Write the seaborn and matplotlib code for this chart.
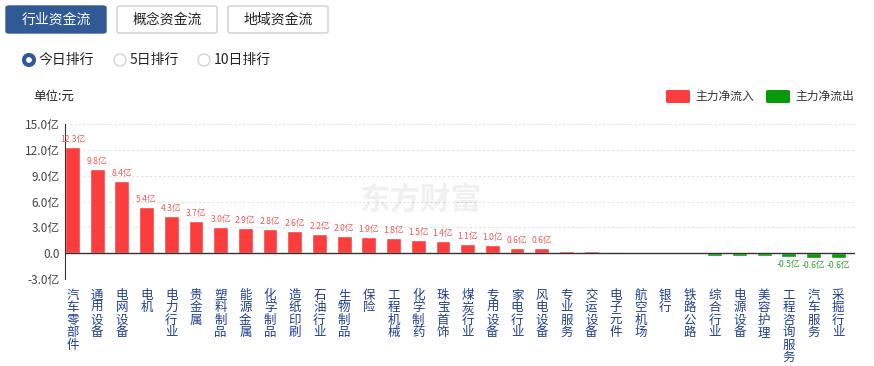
import matplotlib
matplotlib.use("Agg")
import matplotlib.pyplot as plt
import seaborn as sns
import pandas as pd
from matplotlib.patches import FancyBboxPatch, Ellipse

# 行业资金流 今日排行
industries = ["汽车零部件", "通用设备", "电网设备", "电机", "电力行业", "贵金属", "塑料制品",
              "能源金属", "化学制品", "造纸印刷", "石油行业", "生物制品", "保险", "工程机械",
              "化学制药", "珠宝首饰", "煤炭行业", "专用设备", "家电行业", "风电设备", "专业服务",
              "交运设备", "电子元件", "航空机场", "银行", "铁路公路", "综合行业", "电源设备",
              "美容护理", "工程咨询服务", "汽车服务", "采掘行业"]
net_flow = [12.3, 9.8, 8.4, 5.4, 4.3, 3.7, 3.0, 2.9, 2.8, 2.6, 2.2, 2.0, 1.9, 1.8, 1.5, 1.4,
            1.1, 1.0, 0.6, 0.6, 0.28, 0.27, 0.12, 0.06, 0.05, 0.01, -0.3, -0.35, -0.35,
            -0.5, -0.6, -0.6]
yticks = [-3, 0, 3, 6, 9, 12, 15]

RED = "#fc3d3d"
GREEN = "#089a0a"

df = pd.DataFrame({"行业": industries, "净流入": net_flow})
df["方向"] = ["主力净流入" if v >= 0 else "主力净流出" for v in net_flow]

sns.set_style("white")
plt.rcParams["font.family"] = ["Noto Sans CJK SC", "DejaVu Sans"]

W, H = 874, 366
fig = plt.figure(figsize=(W / 100, H / 100), dpi=100)

def fx(px):
    return px / W

def fy(py):
    return 1 - py / H

ax = fig.add_axes([fx(65), fy(279), fx(855 - 65), (279 - 124) / H])
sns.barplot(data=df, x="行业", y="净流入", hue="方向",
            palette={"主力净流入": RED, "主力净流出": GREEN},
            dodge=False, width=0.6, legend=False, ax=ax, saturation=1)

ax.set_ylim(-3, 15)
ax.set_yticks(yticks)
ax.set_yticklabels([("%.1f亿" % t) if t != 0 else "0.0" for t in yticks],
                   fontsize=8.5, color="#444444")
ax.set_xlabel("")
ax.set_ylabel("")
ax.set_xlim(-0.3, len(industries) - 0.32)
for t in yticks:
    if t != 0:
        ax.axhline(t, color="#e3e3e3", lw=0.8, ls=(0, (2, 2)), zorder=0)
ax.axhline(0, color="#333333", lw=1.0, zorder=3)
for s in ["top", "right", "bottom"]:
    ax.spines[s].set_visible(False)
ax.spines["left"].set_color("#333333")
ax.tick_params(axis="both", length=0)
ax.tick_params(axis="y", pad=4)

ax.set_xticks(range(len(industries)))
ax.set_xticklabels(["\n".join(n) for n in industries], fontsize=9, color="#1f3f8f",
                   va="top", linespacing=0.95)
ax.tick_params(axis="x", pad=7)

# 数值标签
for i, v in enumerate(net_flow):
    if abs(v) >= 0.5:
        if v > 0:
            ax.text(i, v + 0.35, "%.1f亿" % v, ha="center", va="bottom",
                    fontsize=6.2, color="#ee5a55")
        else:
            ax.text(i, v - 0.3, "%.1f亿" % v, ha="center", va="top",
                    fontsize=6.2, color="#2f9a2f")

# 水印
ax.text(0.45, 0.51, "东方财富", transform=ax.transAxes, fontsize=22, fontweight="bold",
        color="#000000", alpha=0.06, ha="center", va="center", zorder=0)

# 顶部按钮
buttons = ["行业资金流", "概念资金流", "地域资金流"]
for k, name in enumerate(buttons):
    x0 = 6 + k * 111
    active = k == 0
    fig.patches.append(FancyBboxPatch((fx(x0), fy(33)), fx(100), 27 / H,
                                      boxstyle="round,pad=0,rounding_size=0.004",
                                      transform=fig.transFigure,
                                      facecolor="#2f5a96" if active else "white",
                                      edgecolor="#2f5a96" if active else "#cfcfcf", lw=1))
    fig.text(fx(x0 + 50), fy(19.5), name, ha="center", va="center", fontsize=10,
             color="white" if active else "#222222")

# 排行单选
radios = ["今日排行", "5日排行", "10日排行"]
radio_x = [29, 120, 204]
for k, name in enumerate(radios):
    cx = radio_x[k]
    if k == 0:
        fig.patches.append(Ellipse((fx(cx), fy(60)), 10 / W, 10 / H, transform=fig.transFigure,
                                   facecolor="white", edgecolor="#2f5a96", lw=3.0))
    else:
        fig.patches.append(Ellipse((fx(cx), fy(60)), 12 / W, 12 / H, transform=fig.transFigure,
                                   facecolor="white", edgecolor="#cfcfcf", lw=0.9))
    fig.text(fx(cx + 10), fy(60), name, ha="left", va="center", fontsize=10, color="#222222")

fig.text(fx(33), fy(96), "单位:元", ha="left", va="center", fontsize=9, color="#222222")

# 图例
legend_items = [("主力净流入", RED, 666), ("主力净流出", GREEN, 766)]
for name, c, x0 in legend_items:
    fig.patches.append(FancyBboxPatch((fx(x0), fy(103)), fx(24), 13 / H,
                                      boxstyle="round,pad=0,rounding_size=0.003",
                                      transform=fig.transFigure, facecolor=c, edgecolor="none"))
    fig.text(fx(x0 + 29), fy(96.5), name, ha="left", va="center", fontsize=8.5, color="#333333")

fig.savefig("out.png", dpi=100)
